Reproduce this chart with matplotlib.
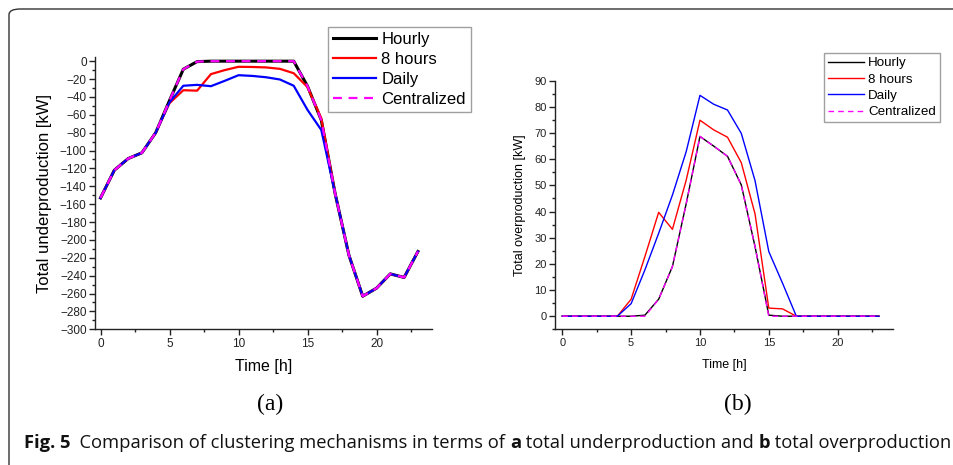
import matplotlib
matplotlib.use("Agg")
import matplotlib.pyplot as plt
from matplotlib.patches import FancyBboxPatch
from matplotlib.ticker import MultipleLocator

hours = list(range(24))

# (a) total underproduction [kW]
under_hourly = [-153, -122, -109, -102.5, -80, -44, -9, -0.5, 0, 0, 0, 0, 0, 0, 0,
                -28, -66, -148, -217, -263, -254, -238, -242, -213]
under_8h = [-153, -122, -109, -102.5, -80, -47, -32.5, -33, -14.5, -10, -6.3, -6.5, -7, -8.6, -13.5,
            -29, -64, -148, -217, -263, -254, -238, -242, -213]
under_daily = [-153, -122, -109, -102.5, -80, -46, -27.5, -26.5, -28, -22, -15.7, -16.5, -18, -20.5, -27.5,
               -54.5, -77, -148, -217, -263, -254, -238, -242, -213]
under_central = under_hourly

# (b) total overproduction [kW]
over_hourly = [0, 0, 0, 0, 0, 0, 0.4, 6.5, 19, 43, 68.7, 65, 61.1, 50.2, 26.6,
               0.4, 0, 0, 0, 0, 0, 0, 0, 0]
over_8h = [0, 0, 0, 0, 0, 6.5, 22.8, 39.7, 33.2, 52, 74.9, 71.2, 68.4, 58.7, 39.1,
           3.1, 2.8, 0, 0, 0, 0, 0, 0, 0]
over_daily = [0, 0, 0, 0, 0, 4.8, 17.7, 31.7, 46.3, 62.9, 84.4, 81, 78.8, 69.9, 51.8,
              24.7, 12.6, 0, 0, 0, 0, 0, 0, 0]
over_central = [0, 0, 0, 0, 0, 0, 0, 6.5, 19, 43, 68.7, 65, 61.1, 50.2, 26.6,
                0, 0, 0, 0, 0, 0, 0, 0, 0]

labels = ["Hourly", "8 hours", "Daily", "Centralized"]

plt.rcParams['font.family'] = ['Liberation Sans', 'DejaVu Sans']

W, H = 954, 465
fig = plt.figure(figsize=(W / 100, H / 100), dpi=100)


def frac(x0, y0, x1, y1):
    # pixel box (top-left origin) -> figure fraction rect
    return [x0 / W, 1 - y1 / H, (x1 - x0) / W, (y1 - y0) / H]


def style_axes(ax, tick_size):
    ax.spines['top'].set_visible(False)
    ax.spines['right'].set_visible(False)
    for s in ('left', 'bottom'):
        ax.spines[s].set_linewidth(1.0)
        ax.spines[s].set_color('#222222')
    ax.tick_params(which='major', direction='out', length=4, width=1, labelsize=tick_size,
                   colors='#222222', pad=2)
    ax.tick_params(which='minor', direction='out', length=2.5, width=1, colors='#222222')
    ax.xaxis.set_major_locator(MultipleLocator(5))
    ax.xaxis.set_minor_locator(MultipleLocator(2.5))


# Border of the figure panel (rounded top-left corner)
border = FancyBboxPatch((9 / W, -0.2), 1.2, 1.2 - 9 / H,
                        boxstyle="round,pad=0,rounding_size=0.012",
                        transform=fig.transFigure, fill=False,
                        edgecolor='#333333', linewidth=1.0)
fig.patches.append(border)

# ---- (a)
ax1 = fig.add_axes(frac(95, 56.7, 431.7, 329.3))
ax1.plot(hours, under_hourly, color='black', lw=2.2, label=labels[0])
ax1.plot(hours, under_8h, color='#ff0000', lw=1.6, label=labels[1])
ax1.plot(hours, under_daily, color='#0000ff', lw=1.6, label=labels[2])
ax1.plot(hours, under_central, color='#ff00ff', lw=1.6, ls=(0, (4, 3)), label=labels[3])
ax1.set_xlim(-0.4, 24)
ax1.set_ylim(-300, 5)
ax1.yaxis.set_major_locator(MultipleLocator(20))
ax1.yaxis.set_minor_locator(MultipleLocator(10))
style_axes(ax1, 8.5)
ax1.set_ylabel("Total underproduction [kW]", fontsize=12, labelpad=6)
ax1.set_xlabel("Time [h]", fontsize=11.5, labelpad=7)
leg1 = ax1.legend(loc='upper right', bbox_to_anchor=(471 / W, 1 - 27 / H),
                  bbox_transform=fig.transFigure, fontsize=12, frameon=True,
                  fancybox=False, edgecolor='#888888', handlelength=2.6,
                  handletextpad=0.3, labelspacing=0.3, borderpad=0.3, borderaxespad=0)

# ---- (b)
ax2 = fig.add_axes(frac(555, 80.7, 892.7, 329.3))
ax2.plot(hours, over_hourly, color='black', lw=1.0, label=labels[0])
ax2.plot(hours, over_8h, color='#ff0000', lw=1.0, label=labels[1])
ax2.plot(hours, over_daily, color='#0000ff', lw=1.0, label=labels[2])
ax2.plot(hours, over_central, color='#ff00ff', lw=1.0, ls=(0, (4, 3)), label=labels[3])
ax2.set_xlim(-0.53, 24)
ax2.set_ylim(-5, 90)
ax2.yaxis.set_major_locator(MultipleLocator(10))
ax2.yaxis.set_minor_locator(MultipleLocator(5))
style_axes(ax2, 8)
ax2.set_ylabel("Total overproduction [kW]", fontsize=9, labelpad=6)
ax2.set_xlabel("Time [h]", fontsize=9, labelpad=8)
leg2 = ax2.legend(loc='upper right', bbox_to_anchor=(940 / W, 1 - 53 / H),
                  bbox_transform=fig.transFigure, fontsize=9.6, frameon=True,
                  fancybox=False, edgecolor='#888888', handlelength=2.7,
                  handletextpad=0.3, labelspacing=0.3, borderpad=0.3, borderaxespad=0)

# subfigure tags
fig.text(270 / W, 1 - 404 / H, "(a)", family='Liberation Serif', fontsize=17,
         ha='center', va='center')
fig.text(738 / W, 1 - 404 / H, "(b)", family='Liberation Serif', fontsize=17,
         ha='center', va='center')

# caption, laid out piece by piece and fitted to the panel width
pieces = [("Fig. 5", 'bold'), ("  Comparison of clustering mechanisms in terms of ", 'normal'),
          ("a", 'bold'), (" total underproduction and ", 'normal'),
          ("b", 'bold'), (" total overproduction", 'normal')]
fig.canvas.draw()
renderer = fig.canvas.get_renderer()
probe = 12
total = 0
for txt, wt in pieces:
    t = fig.text(0, 0, txt, fontsize=probe, fontweight=wt, family='Open Sans')
    total += t.get_window_extent(renderer).width
    t.remove()
size = probe * (926 / total)
x = 24
for txt, wt in pieces:
    t = fig.text(x / W, 1 - 448 / H, txt, fontsize=size, fontweight=wt,
                 family='Open Sans', ha='left', va='baseline', color='#111111')
    x += t.get_window_extent(renderer).width

fig.savefig("out.png", dpi=100)
